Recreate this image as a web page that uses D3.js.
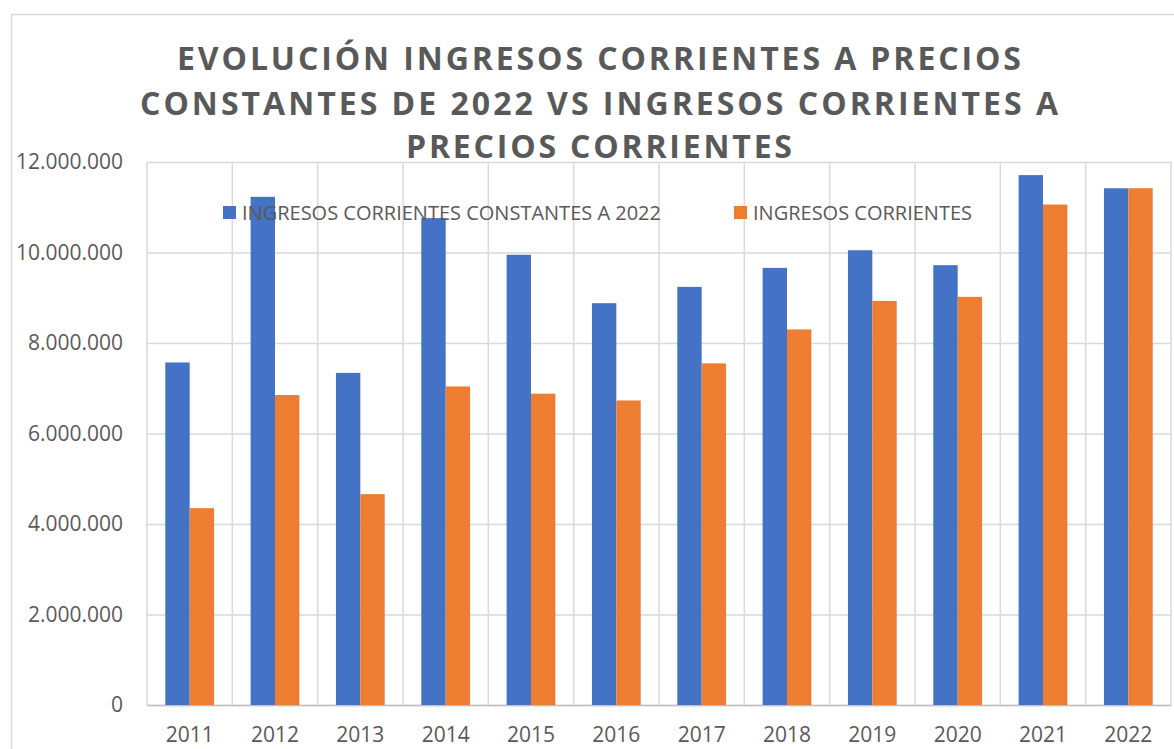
<!DOCTYPE html>
<html>
<head>
<meta charset="utf-8">
<script src="https://cdn.jsdelivr.net/npm/d3@7"></script>
<style>
  body { margin: 0; background: #fff; }
  svg { display: block; font-family: "Open Sans", sans-serif; }
</style>
</head>
<body>
<div id="chart"></div>
<script>
// Data
const years = ["2011", "2012", "2013", "2014", "2015", "2016", "2017", "2018", "2019", "2020", "2021", "2022"];
const constantes = [7570000, 11230000, 7340000, 10760000, 9950000, 8880000, 9240000, 9660000, 10050000, 9720000, 11710000, 11420000];
const corrientes = [4350000, 6850000, 4660000, 7040000, 6880000, 6730000, 7550000, 8300000, 8930000, 9020000, 11060000, 11420000];
const seriesNames = ["INGRESOS CORRIENTES CONSTANTES A 2022", "INGRESOS CORRIENTES"];
const seriesColors = ["#4472C4", "#ED7D31"];
const yTicks = [0, 2000000, 4000000, 6000000, 8000000, 10000000, 12000000];
const titleLines = [
    "EVOLUCIÓN INGRESOS CORRIENTES A PRECIOS",
    "CONSTANTES DE 2022 VS INGRESOS CORRIENTES A",
    "PRECIOS CORRIENTES"
];

const width = 1174, height = 749;
const plot = {left: 147, right: 1171, top: 162, bottom: 705};
const textColor = "#595959";
const gridColor = "#d9d9d9";

const locale = d3.formatLocale({decimal: ",", thousands: ".", grouping: [3], currency: ["", ""]});
const fmt = locale.format(",d");

const svg = d3.select("#chart").append("svg")
    .attr("width", width)
    .attr("height", height);

svg.append("rect").attr("width", width).attr("height", height).attr("fill", "#fff");

// outer chart frame
svg.append("rect")
    .attr("x", 11.5).attr("y", 14.5)
    .attr("width", width + 20).attr("height", height + 20)
    .attr("fill", "none")
    .attr("stroke", gridColor)
    .attr("stroke-width", 1.5);

const x = d3.scaleBand()
    .domain(years)
    .range([plot.left, plot.right])
    .paddingInner(0).paddingOuter(0);

const xs = d3.scaleBand()
    .domain([0, 1])
    .range([0, x.bandwidth()])
    .paddingInner(0)
    .paddingOuter(0.75);

const y = d3.scaleLinear()
    .domain([0, 12000000])
    .range([plot.bottom, plot.top]);

// horizontal gridlines + y labels
const yAxis = d3.axisLeft(y)
    .tickValues(yTicks)
    .tickFormat(fmt)
    .tickSize(-(plot.right - plot.left))
    .tickPadding(24);

const gy = svg.append("g")
    .attr("transform", `translate(${plot.left},0)`)
    .call(yAxis);
gy.select(".domain").remove();
gy.selectAll(".tick line").attr("stroke", gridColor).attr("stroke-width", 1.5);
gy.selectAll(".tick text")
    .attr("fill", textColor)
    .attr("font-size", "21px")
    .attr("font-family", "Open Sans");

// vertical gridlines between categories
const vlines = years.map(d => x(d)).concat([plot.right]);
svg.append("g").selectAll("line")
    .data(vlines)
    .join("line")
    .attr("x1", d => d).attr("x2", d => d)
    .attr("y1", plot.top).attr("y2", plot.bottom)
    .attr("stroke", gridColor)
    .attr("stroke-width", 1.5);

// x axis
const xAxis = d3.axisBottom(x).tickSize(0).tickPadding(22);
const gx = svg.append("g")
    .attr("transform", `translate(0,${plot.bottom})`)
    .call(xAxis);
gx.select(".domain").attr("stroke", "#bfbfbf").attr("stroke-width", 1.5);
gx.selectAll(".tick text")
    .attr("fill", textColor)
    .attr("font-size", "21px")
    .attr("font-family", "Open Sans");

// bars
const rows = years.map((yr, i) => ({year: yr, vals: [constantes[i], corrientes[i]]}));
const groups = svg.append("g").selectAll("g")
    .data(rows)
    .join("g")
    .attr("transform", d => `translate(${x(d.year)},0)`);

groups.selectAll("rect")
    .data(d => d.vals.map((v, k) => ({v, k})))
    .join("rect")
    .attr("x", d => xs(d.k))
    .attr("width", xs.bandwidth())
    .attr("y", d => y(d.v))
    .attr("height", d => y(0) - y(d.v))
    .attr("fill", d => seriesColors[d.k]);

// legend (sits over the plot like in the original)
const legendX = [223, 734];
const legend = svg.append("g").selectAll("g")
    .data(seriesNames)
    .join("g")
    .attr("transform", (d, i) => `translate(${legendX[i]},206)`);
legend.append("rect")
    .attr("width", 13).attr("height", 13)
    .attr("fill", (d, i) => seriesColors[i]);
legend.append("text")
    .attr("x", 19).attr("y", 14)
    .attr("fill", textColor)
    .attr("font-size", "20px")
    .attr("font-family", "Open Sans")
    .text(d => d);

// title, spread out to the width of the original lines
const titleWidths = [844, 918, 386];
const titleBase = [70, 115, 158];
svg.append("g").selectAll("text")
    .data(titleLines)
    .join("text")
    .attr("x", 599)
    .attr("y", (d, i) => titleBase[i])
    .attr("text-anchor", "middle")
    .attr("fill", textColor)
    .attr("font-size", "32px")
    .attr("font-weight", 700)
    .attr("font-family", "Open Sans")
    .text(d => d)
    .each(function (d, i) {
        const natural = this.getComputedTextLength();
        const ls = (titleWidths[i] - natural) / (d.length - 1);
        d3.select(this).attr("letter-spacing", `${ls}px`)
            .attr("x", 599 + ls / 2);
    });
</script>
</body>
</html>
